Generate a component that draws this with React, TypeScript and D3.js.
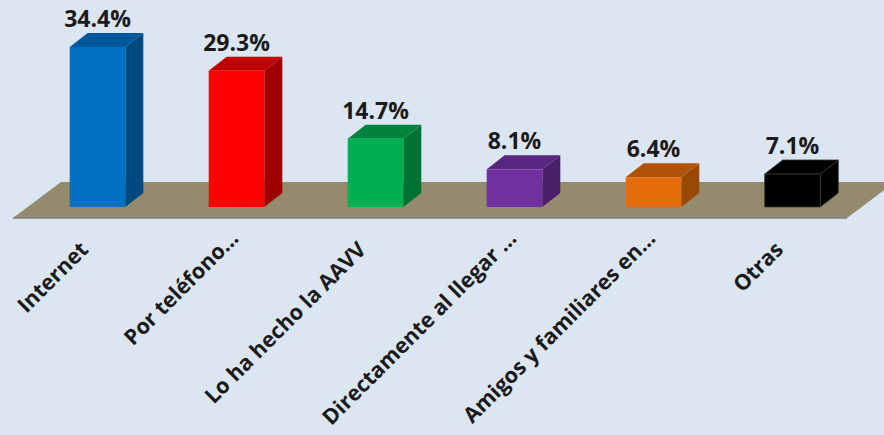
import React from "react";
import * as d3 from "d3";

const categories = [
  "Internet",
  "Por teléfono…",
  "Lo ha hecho la AAVV",
  "Directamente al llegar …",
  "Amigos y familiares en…",
  "Otras",
];
const values = [34.4, 29.3, 14.7, 8.1, 6.4, 7.1];
const valueLabels = ["34.4%", "29.3%", "14.7%", "8.1%", "6.4%", "7.1%"];

const frontColors = ["#0070C0", "#FF0000", "#00B050", "#7030A0", "#E46C0A", "#000000"];
const topColors = ["#00589C", "#C00000", "#00843C", "#582580", "#B05308", "#000000"];
const sideColors = ["#004A80", "#A00000", "#007232", "#4A206B", "#9A4806", "#000000"];

const W = 884;
const H = 435;

export default function App() {
  const x = d3.scaleBand<string>().domain(categories).range([28, 862]).paddingInner(0.6).paddingOuter(0.3);
  const y = d3.scaleLinear().domain([0, 40]).range([207, 21]);
  const bw = x.bandwidth();
  const dx = 18;
  const dy = -14;
  const base = y(0);
  // floor
  const fl = x.range()[0] - 15;
  const fr = x.range()[1] - 15;
  const fy = 218;
  const fdx = 48;
  const fdy = -36;
  const floorPts = [
    [fl, fy],
    [fr, fy],
    [fr + fdx, fy + fdy],
    [fl + fdx, fy + fdy],
  ];
  const line = d3.line();
  const font = "'Open Sans', 'DejaVu Sans', sans-serif";
  return (
    <svg width={W} height={H} style={{ position: "absolute", left: 0, top: 0, background: "#DCE6F2" }}>
      <rect x={0} y={0} width={W} height={H} fill="#DCE6F2" />
      <path d={line(floorPts as [number, number][]) + "Z"} fill="#948B6F" />
      <line x1={fl} x2={fr} y1={fy} y2={fy} stroke="#808080" strokeWidth={1.5} />
      {categories.map((c, i) => {
        const x0 = x(c)!;
        const x1 = x0 + bw;
        const yt = y(values[i]);
        const front = `M${x0},${yt}H${x1}V${base}H${x0}Z`;
        const side = `M${x1},${yt}L${x1 + dx},${yt + dy}V${base + dy}L${x1},${base}Z`;
        const top = `M${x0},${yt}L${x0 + dx},${yt + dy}H${x1 + dx}L${x1},${yt}Z`;
        const isBlack = frontColors[i] === "#000000";
        const stroke = isBlack ? "#3a3a3a" : "none";
        return (
          <g key={c}>
            <path d={side} fill={sideColors[i]} stroke={stroke} strokeWidth={0.8} />
            <path d={top} fill={topColors[i]} stroke={stroke} strokeWidth={0.8} />
            <path d={front} fill={frontColors[i]} stroke={stroke} strokeWidth={0.8} />
            <text
              x={x0 + bw / 2}
              y={yt + dy - 6}
              textAnchor="middle"
              fontFamily={font}
              fontWeight="bold"
              fontSize={23}
              fill="#1a1a1a"
            >
              {valueLabels[i]}
            </text>
          </g>
        );
      })}
      {categories.map((c) => {
        const cx = x(c)! + bw / 2;
        const trunc = c.endsWith("…");
        const ax = cx - 8;
        const ay = 251;
        return (
          <text
            key={"l" + c}
            transform={`translate(${ax},${ay}) rotate(-45)`}
            dx={trunc ? 16 : 0}
            textAnchor="end"
            fontFamily={font}
            fontWeight="bold"
            fontSize={21.5}
            fill="#1a1a1a"
          >
            {c}
          </text>
        );
      })}
    </svg>
  );
}
